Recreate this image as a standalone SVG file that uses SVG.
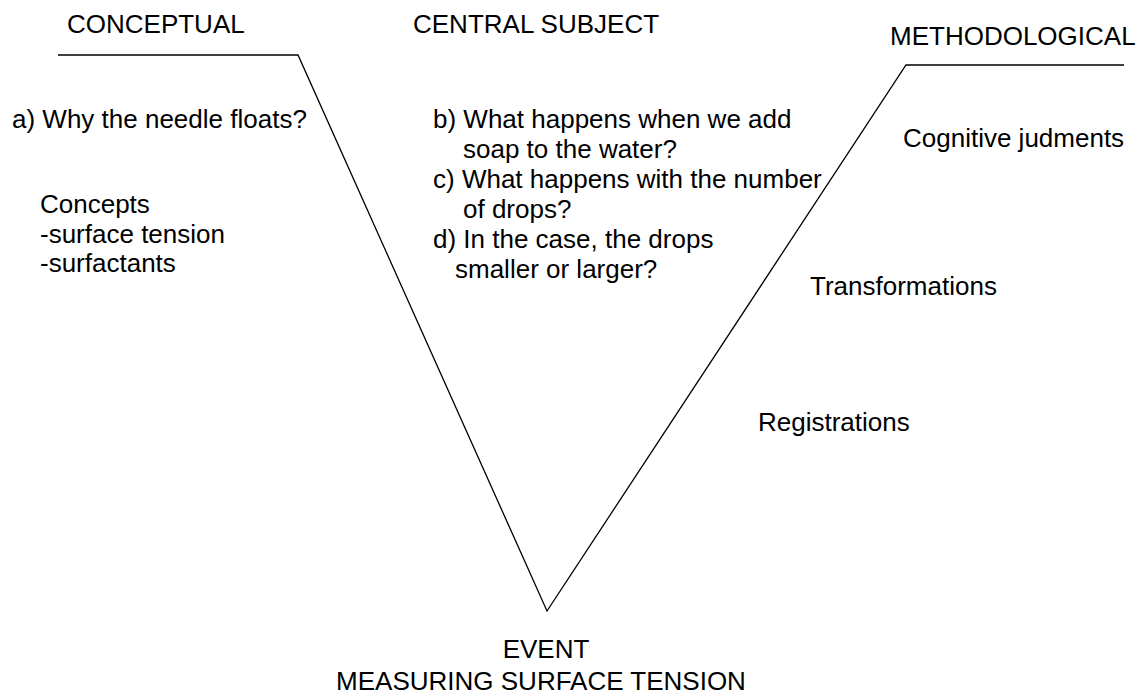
<svg xmlns="http://www.w3.org/2000/svg" width="1143" height="700" viewBox="0 0 1143 700">
<style>
  text { font-family: "Liberation Sans", Arial, sans-serif; font-size: 26px; fill: #000; }
  .v { fill: none; stroke: #000; stroke-width: 1.3; stroke-linejoin: miter; }
  .mid { text-anchor: middle; }
</style>
<rect width="1143" height="700" fill="#fff"/>
<g id="vee">
  <polyline class="v" points="58,55 298,55 547,611 906,65 1124,65"/>
</g>
<g id="conceptual">
  <text x="67" y="33">CONCEPTUAL</text>
  <text x="12" y="128">a) Why the needle floats?</text>
  <text x="40" y="213">Concepts</text>
  <text x="40" y="243">-surface tension</text>
  <text x="40" y="272">-surfactants</text>
</g>
<g id="central">
  <text x="413" y="33">CENTRAL SUBJECT</text>
  <text x="433" y="128">b) What happens when we add</text>
  <text x="463" y="158">soap to the water?</text>
  <text x="433" y="188">c) What happens with the number</text>
  <text x="463" y="218">of drops?</text>
  <text x="433" y="248">d) In the case, the drops</text>
  <text x="455" y="278">smaller or larger?</text>
</g>
<g id="methodological">
  <text x="890" y="45">METHODOLOGICAL</text>
  <text x="903" y="147">Cognitive judments</text>
  <text x="810" y="295">Transformations</text>
  <text x="758" y="431">Registrations</text>
</g>
<g id="event">
  <text class="mid" x="546" y="658">EVENT</text>
  <text class="mid" x="541" y="690">MEASURING SURFACE TENSION</text>
</g>
</svg>
